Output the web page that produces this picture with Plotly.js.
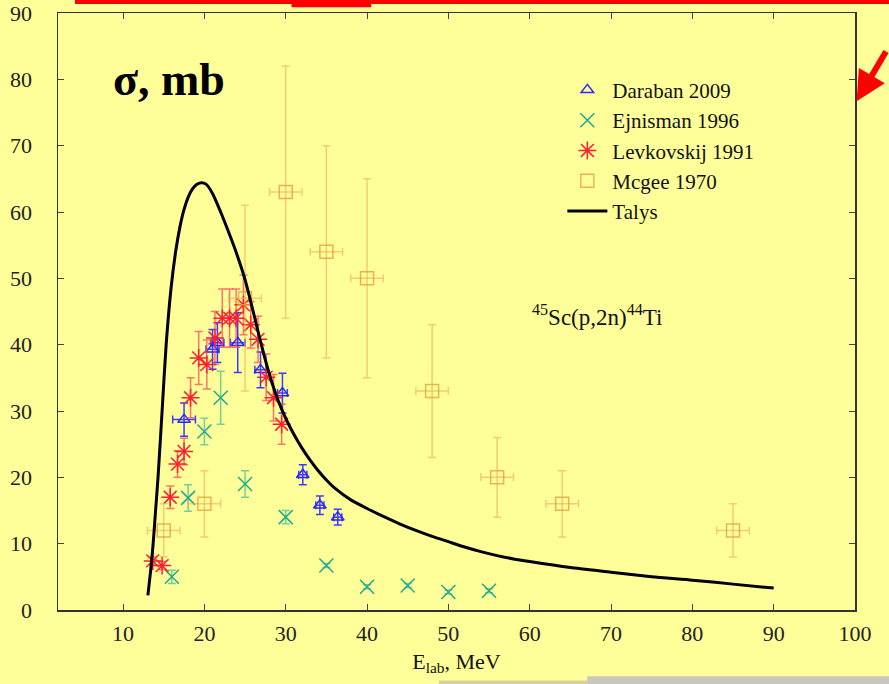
<!DOCTYPE html>
<html>
<head>
<meta charset="utf-8">
<script src="https://cdn.plot.ly/plotly-3.0.1.min.js"></script>
<style>html,body{margin:0;padding:0;background:#FFFF99;}#chart{width:889px;height:684px;}</style>
</head>
<body>
<div id="chart"></div>
<script>
// ---- Data ----
// Daraban 2009
const darabanE   = [17.5, 21.0, 21.6, 24.1, 26.9, 29.6, 32.1, 34.2, 36.4];
const darabanSig = [28.7, 39.3, 40.3, 40.3, 36.2, 32.7, 20.4, 15.8, 14.0];
const darabanErr = [2.5, 3.0, 3.0, 4.5, 2.7, 3.0, 1.5, 1.4, 1.2];
const darabanEErr = [1.4, 0.8, 0.8, 0.9, 0.7, 0.6, 0.5, 0.5, 0.5];
// Ejnisman 1996
const ejnismanE   = [16.0, 18.0, 20.0, 22.0, 25.0, 30.0, 35.0, 40.0, 45.0, 50.0, 55.0];
const ejnismanSig = [5.0, 16.9, 26.9, 32.0, 19.0, 14.0, 6.7, 3.5, 3.7, 2.7, 2.9];
const ejnismanErr = [1.0, 2.0, 2.0, 4.0, 2.0, 1.0, 0.3, 0.3, 0.3, 0.3, 0.3];
// Levkovskij 1991
const levkE   = [13.65, 14.8, 15.8, 16.7, 17.5, 18.3, 19.3, 20.3, 21.3, 22.2, 23.1, 23.9, 24.8, 25.7, 26.6, 27.6, 28.5, 29.5];
const levkSig = [7.4, 6.7, 17.0, 22.0, 23.9, 32.0, 38.0, 37.0, 41.0, 44.0, 44.0, 44.0, 46.0, 43.0, 40.8, 35.1, 32.0, 28.0];
const levkErr = [0.6, 0.6, 1.7, 2.0, 2.0, 3.0, 4.0, 3.7, 4.0, 4.4, 4.4, 4.4, 4.5, 3.5, 3.5, 3.5, 3.5, 3.0];
// Mcgee 1970
const mcgeeE    = [15, 20, 25, 30, 35, 40, 48, 56, 64, 85];
const mcgeeSig  = [12, 16, 47, 63, 54, 50, 33, 20, 16, 12];
const mcgeeErr  = [4, 5, 14, 19, 16, 15, 10, 6, 5, 4];
const mcgeeEErr = [2, 2, 2, 2, 2, 2, 2, 2, 2, 2];
// Talys calculation
const talysE   = [13.05, 13.4, 13.7, 14.0, 14.3, 14.8, 15.3, 15.9, 16.5, 17.0, 17.5, 18.0, 18.5, 19.0, 19.6, 20.2, 21.0, 22.0, 23.0, 24.0, 25.0, 26.0, 27.0, 28.0, 29.0, 30.0, 31.0, 32.0, 33.0, 34.0, 35.0, 36.0, 38.0, 40.0, 42.0, 44.0, 46.0, 48.0, 50.0, 52.0, 54.0, 56.0, 58.0, 60.0, 65.0, 70.0, 75.0, 80.0, 85.0, 90.0];
const talysSig = [2.2, 6.0, 10.0, 15.0, 20.0, 30.0, 40.0, 48.5, 54.3, 57.8, 60.4, 62.2, 63.4, 64.1, 64.4, 64.2, 62.8, 60.0, 56.9, 53.6, 49.8, 45.0, 40.0, 35.5, 31.8, 28.9, 26.5, 24.4, 22.6, 21.0, 19.6, 18.4, 16.6, 15.3, 14.1, 13.0, 12.0, 11.1, 10.3, 9.5, 8.8, 8.2, 7.7, 7.3, 6.4, 5.7, 5.0, 4.5, 3.9, 3.3];
// Axis ticks
const xTicks = [10, 20, 30, 40, 50, 60, 70, 80, 90, 100];
const yTicks = [0, 10, 20, 30, 40, 50, 60, 70, 80, 90];

const serif = "Liberation Serif, Times New Roman, serif";

const traces = [
  {
    x: darabanE, y: darabanSig, name: 'Daraban 2009', type: 'scatter', mode: 'markers',
    marker: {symbol: 'triangle-up-open', size: 11, color: 'rgb(40,40,255)', line: {width: 1.5, color: 'rgb(40,40,255)'}},
    error_y: {type: 'data', array: darabanErr, visible: true, color: 'rgb(60,60,255)', thickness: 1.5, width: 4},
    error_x: {type: 'data', array: darabanEErr, visible: true, color: 'rgb(60,60,255)', thickness: 1.5, width: 4}
  },
  {
    x: ejnismanE, y: ejnismanSig, name: 'Ejnisman 1996', type: 'scatter', mode: 'markers',
    marker: {symbol: 'x-thin-open', size: 14, color: 'rgb(30,170,140)', line: {width: 1.5, color: 'rgb(30,170,140)'}},
    error_y: {type: 'data', array: ejnismanErr, visible: true, color: 'rgba(60,185,160,0.7)', thickness: 1.5, width: 4}
  },
  {
    x: levkE, y: levkSig, name: 'Levkovskij 1991', type: 'scatter', mode: 'markers',
    marker: {symbol: 'asterisk-open', size: 15, color: 'rgb(255,30,50)', line: {width: 1.5, color: 'rgb(255,30,50)'}},
    error_y: {type: 'data', array: levkErr, visible: true, color: 'rgba(255,70,90,0.75)', thickness: 1.5, width: 4}
  },
  {
    x: mcgeeE, y: mcgeeSig, name: 'Mcgee 1970', type: 'scatter', mode: 'markers',
    marker: {symbol: 'square-open', size: 13, color: 'rgba(230,160,60,0.8)', line: {width: 1.5, color: 'rgba(230,160,60,0.8)'}},
    error_y: {type: 'data', array: mcgeeErr, visible: true, color: 'rgba(235,170,90,0.6)', thickness: 1.5, width: 4},
    error_x: {type: 'data', array: mcgeeEErr, visible: true, color: 'rgba(235,170,90,0.6)', thickness: 1.5, width: 4}
  },
  {
    x: talysE, y: talysSig, name: 'Talys', type: 'scatter', mode: 'lines',
    line: {color: '#000000', width: 3, shape: 'spline', smoothing: 0.6}
  }
];

const axisCommon = {
  showgrid: false, zeroline: false, showline: true, linecolor: '#333333', linewidth: 1.5,
  ticks: 'inside', ticklen: 6, tickwidth: 1, tickcolor: '#444444', mirror: 'allticks',
  tickfont: {family: serif, size: 22, color: '#222222'}
};

const layout = {
  width: 889, height: 684,
  paper_bgcolor: '#FFFF99', plot_bgcolor: '#FFFF99',
  margin: {l: 58, r: 34, t: 13, b: 74},
  showlegend: true,
  legend: {
    x: 0.88, xanchor: 'right', y: 0.905, yanchor: 'top',
    bgcolor: 'rgba(0,0,0,0)', font: {family: serif, size: 21, color: '#111111'},
    tracegroupgap: 0, itemwidth: 40
  },
  xaxis: Object.assign({}, axisCommon, {
    range: [2, 100], tickvals: xTicks, ticktext: xTicks.map(String),
    ticklabelstandoff: 3,
    title: {text: 'E<sub>lab</sub>, MeV', font: {family: serif, size: 22, color: '#111111'}, standoff: 8}
  }),
  yaxis: Object.assign({}, axisCommon, {
    range: [0, 90], tickvals: yTicks, ticktext: yTicks.map(String),
    ticklabelstandoff: 20
  }),
  annotations: [
    {xref: 'paper', yref: 'paper', x: 0.139, y: 0.888, xanchor: 'center', yanchor: 'middle', showarrow: false,
     text: '<b>σ, mb</b>', font: {family: serif, size: 46, color: '#000000'}},
    {xref: 'paper', yref: 'paper', x: 0.676, y: 0.494, xanchor: 'center', yanchor: 'middle', showarrow: false,
     text: '<sup>45</sup>Sc(p,2n)<sup>44</sup>Ti', font: {family: serif, size: 23, color: '#111111'}},
    {xref: 'paper', yref: 'paper', x: 1.002, y: 0.852, showarrow: true, text: ' ',
     arrowhead: 2, arrowsize: 1, arrowwidth: 6, arrowcolor: '#ff0000', ax: 45, ay: -55}
  ],
  shapes: [
    {type: 'rect', xref: 'paper', yref: 'paper', x0: 0.0213, x1: 1.05, y0: 1.0150, y1: 1.03,
     fillcolor: '#ff0000', line: {width: 0}, layer: 'above'},
    {type: 'rect', xref: 'paper', yref: 'paper', x0: 0.293, x1: 0.393, y0: 1.0095, y1: 1.03,
     fillcolor: '#ff0000', line: {width: 0}, layer: 'above'},
    {type: 'rect', xref: 'paper', yref: 'paper', x0: 0.664, x1: 1.05, y0: -0.124, y1: -0.111,
     fillcolor: '#c9c7bd', line: {width: 0}, layer: 'above'},
    {type: 'rect', xref: 'paper', yref: 'paper', x0: 0.478, x1: 0.664, y0: -0.124, y1: -0.118,
     fillcolor: '#d8d0a0', line: {width: 0}, layer: 'above'}
  ]
};

Plotly.newPlot('chart', traces, layout, {displayModeBar: false, staticPlot: true});
</script>
</body>
</html>
